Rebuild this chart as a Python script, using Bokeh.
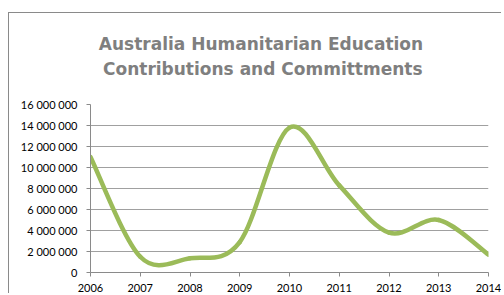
from bokeh.plotting import figure
from bokeh.models import Range1d, FixedTicker, CustomJSTickFormatter, Title, InlineStyleSheet
from bokeh.embed import file_html
from bokeh.resources import INLINE

# ---- data ----
years = [2006, 2007, 2008, 2009, 2010, 2011, 2012, 2013, 2014]
values = [11000000, 1500000, 1350000, 2900000, 13800000, 8300000, 3800000, 5000000, 1700000]
y_ticks = [0, 2000000, 4000000, 6000000, 8000000, 10000000, 12000000, 14000000, 16000000]
title_lines = ["Australia Humanitarian Education", "Contributions and Committments"]

# ---- smoothed (Excel-like) curve as cubic Bezier segments ----
n = len(years)
x0, y0, x1, y1, cx0, cy0, cx1, cy1 = [], [], [], [], [], [], [], []
for i in range(n - 1):
    xp, yp = (years[i - 1], values[i - 1]) if i > 0 else (years[i], values[i])
    xa, ya = years[i], values[i]
    xb, yb = years[i + 1], values[i + 1]
    xn, yn = (years[i + 2], values[i + 2]) if i + 2 < n else (years[i + 1], values[i + 1])
    x0.append(xa); y0.append(ya); x1.append(xb); y1.append(yb)
    cx0.append(xa + (xb - xp) / 6.0); cy0.append(ya + (yb - yp) / 6.0)
    cx1.append(xb - (xn - xa) / 6.0); cy1.append(yb - (yn - ya) / 6.0)

p = figure(width=493, height=281, output_backend="svg", toolbar_location=None,
           x_range=Range1d(years[0], years[-1]), y_range=Range1d(y_ticks[0], y_ticks[-1]),
           min_border_left=81, min_border_right=14, min_border_top=91, min_border_bottom=20,
           margin=(12, 0, 0, 8))
p.stylesheets = [InlineStyleSheet(css=":host { border-left: 1px solid #8a8a8a; border-top: 1px solid #8a8a8a; }")]
p.title = None
p.outline_line_color = None
p.background_fill_color = "white"
p.border_fill_color = "white"

axis_color = "#8a8a8a"
grid_color = "#a0a0a0"

p.xgrid.grid_line_color = None
p.ygrid.grid_line_color = grid_color
p.ygrid.grid_line_width = 1

p.yaxis.ticker = FixedTicker(ticks=y_ticks)
p.yaxis.formatter = CustomJSTickFormatter(code="return Math.round(tick).toString().replace(/\\B(?=(\\d{3})+(?!\\d))/g, ' ');")
p.xaxis.ticker = FixedTicker(ticks=years)
p.xaxis.formatter = CustomJSTickFormatter(code="return Math.round(tick).toString();")

for ax in (p.xaxis, p.yaxis):
    ax.axis_line_color = axis_color
    ax.major_tick_line_color = axis_color
    ax.major_tick_in = 0
    ax.minor_tick_line_color = None
    ax.major_label_text_font = "Lato"
    ax.major_label_text_font_size = "11px"
    ax.major_label_text_color = "#000000"
p.yaxis.major_tick_out = 4
p.yaxis.major_label_standoff = 9
p.xaxis.major_tick_out = 4
p.xaxis.major_label_standoff = 7

p.bezier(x0=x0, y0=y0, x1=x1, y1=y1, cx0=cx0, cy0=cy0, cx1=cx1, cy1=cy1,
         line_color="#9bbb59", line_width=4.5, line_cap="round")

# title: spacer nearest the frame, then line 2, then line 1
title_style = dict(text_font="DejaVu Sans", text_font_style="bold", text_font_size="17px",
                   text_color="#7f7f7f", align="left")
p.add_layout(Title(text=" ", text_font_size="1px", standoff=21, text_color="white"), "above")
p.add_layout(Title(text=title_lines[1], offset=12.5, standoff=3, **title_style), "above")
p.add_layout(Title(text=title_lines[0], offset=8.3, standoff=3, **title_style), "above")

open("out.html", "w").write(file_html(p, INLINE))
